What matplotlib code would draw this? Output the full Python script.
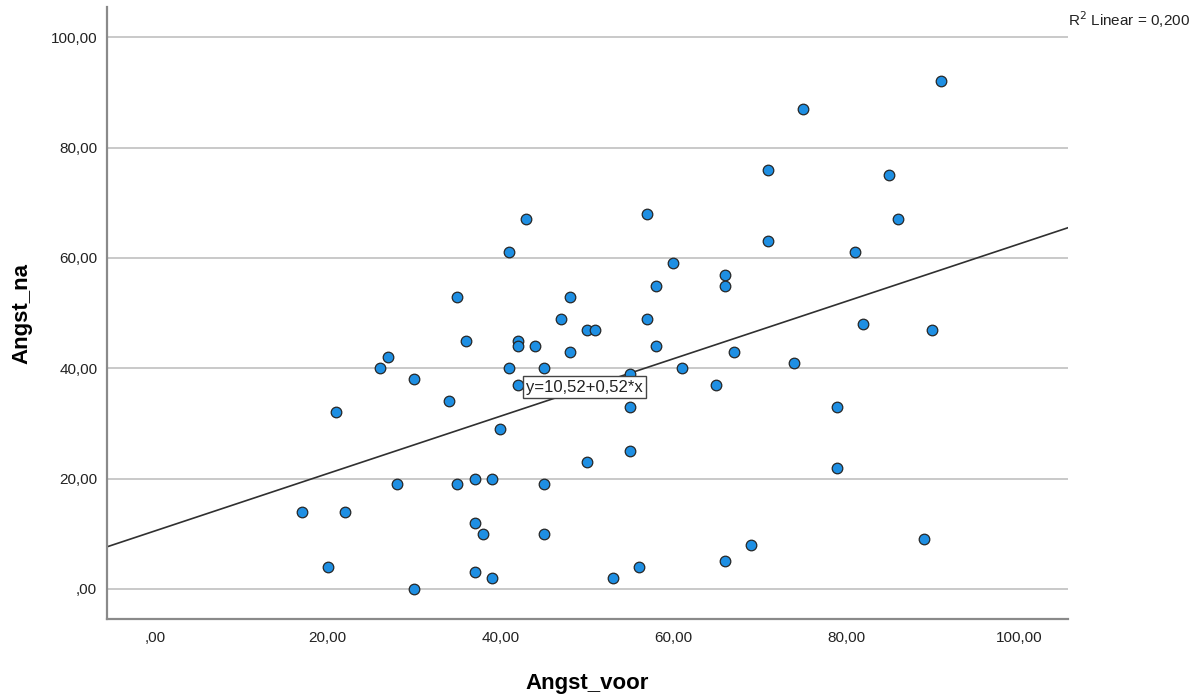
import numpy as np
import matplotlib
matplotlib.use("Agg")
import matplotlib.pyplot as plt

plt.rcParams['font.family'] = ['Liberation Sans', 'DejaVu Sans']

# Angst_voor (x) and Angst_na (y)
angst_voor = [17, 20, 21, 22, 26, 27, 28, 30, 30, 34, 35, 35, 36, 37, 37, 37, 38, 39, 39, 40,
              41, 41, 42, 42, 42, 43, 44, 45, 45, 45, 47, 48, 48, 50, 50, 51, 53, 55, 55, 55,
              56, 57, 57, 58, 58, 60, 61, 65, 66, 66, 66, 67, 69, 71, 71, 74, 75, 79, 79, 81,
              82, 85, 86, 89, 90, 91]
angst_na = [14, 4, 32, 14, 40, 42, 19, 38, 0, 34, 53, 19, 45, 20, 12, 3, 10, 20, 2, 29,
            61, 40, 45, 44, 37, 67, 44, 40, 19, 10, 49, 53, 43, 47, 23, 47, 2, 39, 33, 25,
            4, 68, 49, 55, 44, 59, 40, 37, 57, 55, 5, 43, 8, 76, 63, 41, 87, 33, 22, 61,
            48, 75, 67, 9, 47, 92]

# fit line from the chart label
intercept = 10.52
slope = 0.52
r2_text = "R$^2$ Linear = 0,200"
eq_text = "y=10,52+0,52*x"

ticks = [0, 20, 40, 60, 80, 100]
tick_labels = [",00", "20,00", "40,00", "60,00", "80,00", "100,00"]

fig = plt.figure(figsize=(12, 6.95), dpi=100)
ax = fig.add_axes([107/1200, 1 - 619/695, (1068 - 107)/1200, (619 - 7)/695])

xmin, xmax = -5.55, 105.7
ymin, ymax = -5.45, 105.5
ax.set_xlim(xmin, xmax)
ax.set_ylim(ymin, ymax)

# horizontal grid
for t in ticks:
    ax.axhline(t, color="#c9c9c9", lw=1.4, zorder=1)

xs = np.array([xmin, xmax])
ax.plot(xs, intercept + slope * xs, color="#303030", lw=1.2, zorder=2)

ax.scatter(angst_voor, angst_na, s=58, facecolor="#1e8fe3", edgecolor="#262626",
           linewidth=0.9, zorder=3)

ax.text(42.95, 36.6, eq_text, fontsize=12, ha="left", va="center", color="#222222",
        zorder=4, bbox=dict(boxstyle="square,pad=0.2", fc="white", ec="#444444", lw=1.0))

ax.set_xticks(ticks)
ax.set_xticklabels(tick_labels)
ax.set_yticks(ticks)
ax.set_yticklabels(tick_labels)
ax.tick_params(length=0, labelsize=11, colors="#222222")
ax.tick_params(axis="y", pad=7)
ax.tick_params(axis="x", pad=9)

for side in ["top", "right"]:
    ax.spines[side].set_visible(False)
for side in ["left", "bottom"]:
    ax.spines[side].set_color("#8a8a8a")
    ax.spines[side].set_linewidth(1.6)

ax.set_xlabel("Angst_voor", fontsize=16, fontweight="bold", labelpad=20)
ax.set_ylabel("Angst_na", fontsize=16, fontweight="bold", labelpad=13)

fig.text(1068/1200, 1 - 20/695, r2_text, fontsize=11, ha="left", va="center", color="#222222")

fig.savefig("out.png", dpi=100, facecolor="white")
